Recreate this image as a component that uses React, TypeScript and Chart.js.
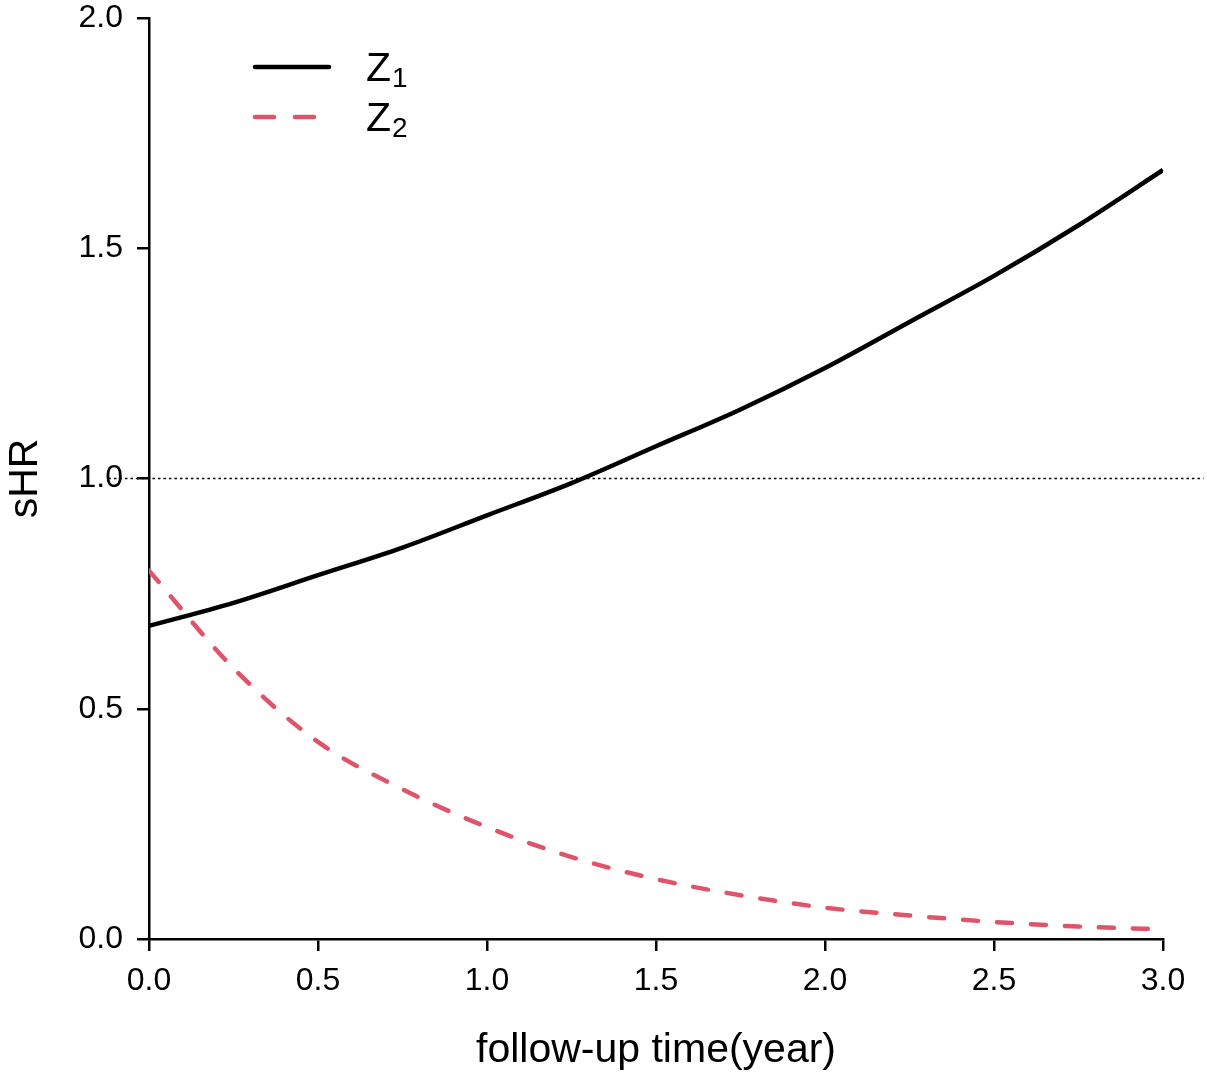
import { useEffect, useRef } from "react";
import { Chart, registerables } from "chart.js";

Chart.register(...registerables);

// follow-up time (years)
const times = [0, 0.25, 0.5, 0.75, 1.0, 1.25, 1.5, 1.75, 2.0, 2.25, 2.5, 2.75, 3.0];
// sHR
const z1Values = [0.68, 0.73, 0.79, 0.85, 0.92, 0.99, 1.07, 1.15, 1.24, 1.34, 1.44, 1.55, 1.67];
const z2Values = [0.8, 0.588, 0.428, 0.325, 0.243, 0.178, 0.13, 0.095, 0.068, 0.051, 0.037, 0.027, 0.021];
const seriesLabels = ["Z₁", "Z₂"];
const refLine = 1.0;

const FONT = "'Liberation Sans', Arial, Helvetica, sans-serif";
const SUBS: Record<string, string> = { "₀": "0", "₁": "1", "₂": "2", "₃": "3" };

// dotted horizontal line at sHR = 1 (R abline spans the whole plot region)
const refLinePlugin = {
  id: "refLine",
  beforeDatasetsDraw(chart: Chart) {
    const { ctx, scales } = chart;
    const x = scales.x;
    const y = scales.y.getPixelForValue(refLine);
    ctx.save();
    ctx.strokeStyle = "#000";
    ctx.lineWidth = 1.5;
    ctx.setLineDash([2.5, 3]);
    ctx.beginPath();
    ctx.moveTo(x.getPixelForValue(-0.12), y);
    ctx.lineTo(x.getPixelForValue(3.12), y);
    ctx.stroke();
    ctx.restore();
  },
};

// R style legend in the top left corner, with subscripts
const legendPlugin = {
  id: "rLegend",
  afterDraw(chart: Chart) {
    const { ctx, chartArea } = chart;
    ctx.save();
    chart.data.datasets.forEach((ds: any, i: number) => {
      const rowY = chartArea.top + 49 + i * 50;
      const x0 = chartArea.left + 106;
      ctx.strokeStyle = ds.borderColor;
      ctx.lineWidth = ds.borderWidth;
      ctx.lineCap = "round";
      ctx.setLineDash(ds.borderDash ? [19, 21] : []);
      ctx.beginPath();
      ctx.moveTo(x0, rowY);
      ctx.lineTo(x0 + 74, rowY);
      ctx.stroke();

      ctx.setLineDash([]);
      ctx.fillStyle = "#000";
      ctx.textBaseline = "alphabetic";
      ctx.textAlign = "left";
      let tx = chartArea.left + 217;
      for (const ch of String(ds.label)) {
        if (SUBS[ch]) {
          ctx.font = `28px ${FONT}`;
          ctx.fillText(SUBS[ch], tx, rowY + 20);
          tx += ctx.measureText(SUBS[ch]).width;
        } else {
          ctx.font = `41px ${FONT}`;
          ctx.fillText(ch, tx, rowY + 14);
          tx += ctx.measureText(ch).width + 1;
        }
      }
    });
    ctx.restore();
  },
};

export default function App() {
  const canvasRef = useRef<HTMLCanvasElement | null>(null);

  useEffect(() => {
    document.body.style.margin = "0";
    if (!canvasRef.current) return;

    const axisGrid = {
      display: true,
      drawOnChartArea: false,
      drawTicks: true,
      tickLength: 12,
      color: "#000",
      lineWidth: 2.5,
    };
    const axisBorder = { display: true, color: "#000", width: 2.5 };

    const chart = new Chart(canvasRef.current, {
      type: "line",
      data: {
        datasets: [
          {
            label: seriesLabels[0],
            data: times.map((t, i) => ({ x: t, y: z1Values[i] })),
            borderColor: "#000000",
            borderWidth: 4.5,
            pointRadius: 0,
            cubicInterpolationMode: "monotone",
          },
          {
            label: seriesLabels[1],
            data: times.map((t, i) => ({ x: t, y: z2Values[i] })),
            borderColor: "#DF536B",
            borderWidth: 4.5,
            borderDash: [15, 19],
            borderCapStyle: "round",
            pointRadius: 0,
            cubicInterpolationMode: "monotone",
          },
        ],
      },
      options: {
        responsive: false,
        animation: false,
        layout: { padding: { top: 18, right: 44, left: 0, bottom: 0 } },
        plugins: {
          legend: { display: false },
          tooltip: { enabled: false },
        },
        scales: {
          x: {
            type: "linear",
            min: 0,
            max: 3,
            grid: axisGrid,
            border: axisBorder,
            ticks: {
              stepSize: 0.5,
              padding: 11,
              color: "#000",
              font: { family: FONT, size: 32 },
              maxRotation: 0,
              callback: (v: any) => Number(v).toFixed(1),
            },
            title: {
              display: true,
              text: "follow-up time(year)",
              color: "#000",
              font: { family: FONT, size: 41 },
              padding: { top: 0, bottom: 9 },
            },
            afterFit: (scale: any) => {
              scale.height = 145;
              scale.paddingLeft = 0;
              scale.paddingRight = 0;
            },
          },
          y: {
            type: "linear",
            min: 0,
            max: 2,
            grid: axisGrid,
            border: axisBorder,
            ticks: {
              stepSize: 0.5,
              padding: 14,
              color: "#000",
              font: { family: FONT, size: 32 },
              callback: (v: any) => Number(v).toFixed(1),
            },
            title: {
              display: true,
              text: "sHR",
              color: "#000",
              font: { family: FONT, size: 41 },
              padding: { top: 1, bottom: 0 },
            },
            afterFit: (scale: any) => {
              scale.width = 149;
              scale.paddingTop = 0;
              scale.paddingBottom = 0;
            },
          },
        },
      },
      plugins: [refLinePlugin, legendPlugin],
    });

    return () => {
      chart.destroy();
    };
  }, []);

  return (
    <div style={{ width: 1207, height: 1084, background: "#fff" }}>
      <canvas ref={canvasRef} width={1207} height={1084} style={{ width: 1207, height: 1084 }} />
    </div>
  );
}
